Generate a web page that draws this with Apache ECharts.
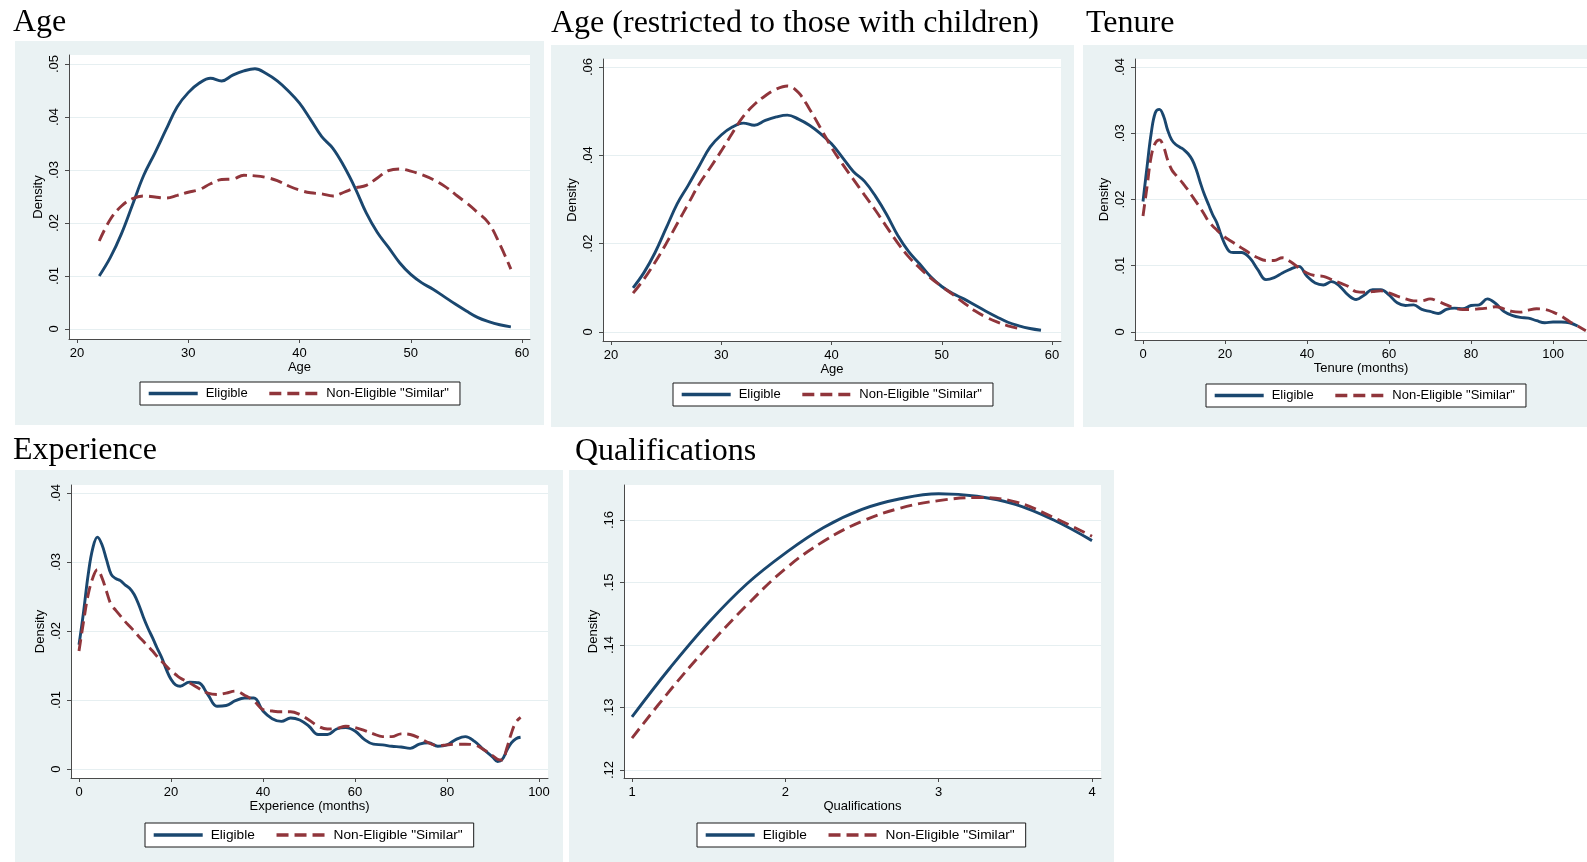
<!DOCTYPE html>
<html>
<head>
<meta charset="utf-8">
<title>Density comparisons: Eligible vs Non-Eligible "Similar"</title>
<script src="https://cdn.jsdelivr.net/npm/echarts@6/dist/echarts.min.js"></script>
<style>
  html, body { margin: 0; padding: 0; background: #ffffff; }
  #chart { width: 1587px; height: 862px; }
</style>
</head>
<body>
<div id="chart"></div>
<script>
// ---- Series names ----
const seriesNames = ['Eligible', 'Non-Eligible "Similar"'];

// ---- Age ----
const ageX = [22,23,24,25,26,27,28,29,30,31,32,33,34,35,36,37,38,39,40,41,42,43,44,45,46,47,48,49,50,51,52,53,54,55,56,57,58,59];
const ageEligible = [.0100,.0135,.0180,.0235,.0290,.0332,.0376,.0419,.0446,.0464,.0473,.0468,.0479,.0487,.0491,.0482,.0468,.0449,.0426,.0395,.0363,.0341,.0307,.0266,.0219,.0182,.0154,.0125,.0103,.0087,.0075,.0061,.0047,.0034,.0022,.0014,.0008,.0004];
const ageNonEligible = [.0166,.0207,.0232,.0246,.0251,.0249,.0247,.0252,.0258,.0263,.0274,.0282,.0283,.0290,.0289,.0286,.0280,.0270,.0262,.0257,.0255,.0251,.0258,.0266,.0271,.0285,.0299,.0302,.0298,.0291,.0282,.0270,.0254,.0238,.0220,.0200,.0160,.0113];
const ageXTicks = [20,30,40,50,60];
const ageXLabels = ['20','30','40','50','60'];
const ageYTicks = [0,.01,.02,.03,.04,.05];
const ageYLabels = ['0','.01','.02','.03','.04','.05'];

// ---- Age, restricted to those with children ----
const childAgeNonEligible = [.0088,.0120,.0158,.0200,.0245,.0290,.0335,.0372,.0410,.0450,.0488,.0515,.0535,.0550,.0557,.0542,.0505,.0462,.0418,.0380,.0345,.0310,.0275,.0238,.0202,.0170,.0145,.0122,.0103,.0085,.0066,.0048,.0034,.0023,.0014,.0008,null,null];
const childYTicks = [0,.02,.04,.06];
const childYLabels = ['0','.02','.04','.06'];

// ---- Tenure (months) ----
const tenureX = [0,1,2,3,4,5,6,7,8,9,10,11,12,13,14,15,16,17,18,19,20,21,22,24,26,28,30,32,34,36,38,40,42,44,46,48,50,52,54,56,58,60,62,64,66,68,70,72,74,76,78,80,82,84,86,88,90,92,94,96,98,100,102,104,106,108];
const tenureEligible = [.0197,.0250,.0300,.0331,.0336,.0326,.0305,.0290,.0283,.0279,.0275,.0269,.0260,.0245,.0225,.0207,.0192,.0177,.0165,.0147,.0132,.0122,.0120,.0120,.0112,.0094,.0079,.0082,.0089,.0095,.0099,.0084,.0074,.0071,.0076,.0069,.0056,.0049,.0056,.0064,.0064,.0056,.0044,.0040,.0041,.0034,.0031,.0028,.0034,.0036,.0035,.0040,.0041,.0050,.0043,.0031,.0025,.0022,.0021,.0017,.0014,.0015,.0015,.0014,.0009,null];
const tenureNonEligible = [.0175,.0220,.0265,.0285,.0290,.0280,.0260,.0245,.0237,.0230,.0222,.0214,.0205,.0196,.0187,.0177,.0167,.0160,.0154,.0148,.0143,.0139,.0135,.0127,.0119,.0112,.0108,.0108,.0112,.0106,.0097,.0089,.0085,.0084,.0079,.0074,.0069,.0061,.0060,.0061,.0062,.0059,.0054,.0050,.0047,.0047,.0050,.0046,.0041,.0036,.0034,.0034,.0035,.0036,.0038,.0035,.0031,.0030,.0033,.0035,.0034,.0030,.0024,.0016,.0009,.0002];
const tenureXTicks = [0,20,40,60,80,100];
const tenureXLabels = ['0','20','40','60','80','100'];
const tenureYTicks = [0,.01,.02,.03,.04];
const tenureYLabels = ['0','.01','.02','.03','.04'];

// ---- Experience (months) ----
const expX = [0,1,2,3,4,5,6,7,8,9,10,11,12,13,14,15,16,17,18,19,20,21,22,24,26,28,30,32,34,36,38,40,42,44,46,48,50,52,54,56,58,60,62,64,66,68,70,72,74,76,78,80,82,84,86,88,90,91,92,93,94,95,96];
const expEligible = [.0180,.0228,.0282,.0320,.0336,.0325,.0303,.0282,.0276,.0273,.0267,.0262,.0253,.0238,.0220,.0204,.0190,.0175,.0161,.0144,.0130,.0122,.0120,.0126,.0125,.0108,.0091,.0092,.0099,.0103,.0103,.0084,.0073,.0069,.0074,.0071,.0062,.0050,.0050,.0058,.0060,.0055,.0043,.0036,.0035,.0033,.0032,.0030,.0036,.0038,.0033,.0035,.0043,.0047,.0040,.0028,.0017,.0011,.0014,.0027,.0038,.0044,.0046];
const expNonEligible = [.0171,.0214,.0253,.0277,.0289,.0277,.0257,.0238,.0230,.0222,.0214,.0207,.0200,.0192,.0185,.0178,.0171,.0163,.0156,.0149,.0142,.0137,.0132,.0125,.0117,.0110,.0108,.0110,.0113,.0107,.0099,.0086,.0084,.0083,.0083,.0079,.0071,.0062,.0058,.0059,.0062,.0060,.0056,.0051,.0047,.0047,.0051,.0050,.0045,.0038,.0034,.0035,.0036,.0036,.0035,.0028,.0019,.0014,.0013,.0030,.0052,.0068,.0075];
const expXTicks = [0,20,40,60,80,100];
const expXLabels = ['0','20','40','60','80','100'];
const expYTicks = [0,.01,.02,.03,.04];
const expYLabels = ['0','.01','.02','.03','.04'];

// ---- Qualifications ----
const qualX = [1,1.25,1.5,1.75,2,2.25,2.5,2.75,3,3.25,3.5,3.75,4];
const qualEligible = [.1285,.1364,.1436,.1498,.1547,.1588,.1617,.1634,.1642,.1638,.1625,.1600,.1567];
const qualNonEligible = [.1251,.1328,.1399,.1464,.1522,.1566,.1598,.1619,.1631,.1636,.1629,.1604,.1574];
const qualXTicks = [1,2,3,4];
const qualXLabels = ['1','2','3','4'];
const qualYTicks = [.12,.13,.14,.15,.16];
const qualYLabels = ['.12','.13','.14','.15','.16'];

// ---- Styling ----
const COLORS = { eligible: '#1a476f', nonEligible: '#90353b', panel: '#eaf2f3', axis: '#4a4a4a', grid: '#e6eff1' };
const SANS = '"Liberation Sans", Arial, sans-serif';
const SERIF = '"Liberation Serif", "Times New Roman", serif';

// Panel layout: titles, panel backgrounds, plot regions, axis extents, legends
const panels = [
  { title: 'Age', titleLeft: 13, titleTop: 7, bg: [15, 41, 529, 384], grid: [69, 55, 461, 284],
    xMin: 19.281, xMax: 60.719, yMin: -0.00189, yMax: 0.0517, xName: 'Age',
    xTicks: ageXTicks, xLabels: ageXLabels, yTicks: ageYTicks, yLabels: ageYLabels,
    x: ageX, a: ageEligible, b: ageNonEligible, legend: [140, 382], legendFont: 13 },
  { title: 'Age (restricted to those with children)', titleLeft: 551, titleTop: 8, bg: [551, 45, 523, 382], grid: [603, 59, 458, 282],
    xMin: 19.274, xMax: 60.816, yMin: -0.00204, yMax: 0.06181, xName: 'Age',
    xTicks: ageXTicks, xLabels: ageXLabels, yTicks: childYTicks, yLabels: childYLabels,
    x: ageX, a: ageEligible, b: childAgeNonEligible, legend: [673, 383], legendFont: 13 },
  { title: 'Tenure', titleLeft: 1086, titleTop: 8, bg: [1083, 45, 504, 382], grid: [1135, 59, 452, 281],
    xMin: -1.951, xMax: 108.29, yMin: -0.00121, yMax: 0.04121, xName: 'Tenure (months)',
    xTicks: tenureXTicks, xLabels: tenureXLabels, yTicks: tenureYTicks, yLabels: tenureYLabels,
    x: tenureX, a: tenureEligible, b: tenureNonEligible, legend: [1206, 384], legendFont: 13 },
  { title: 'Experience', titleLeft: 13, titleTop: 435, bg: [15, 470, 548, 392], grid: [71, 485, 477, 293],
    xMin: -1.739, xMax: 101.96, yMin: -0.0013, yMax: 0.04116, xName: 'Experience (months)',
    xTicks: expXTicks, xLabels: expXLabels, yTicks: expYTicks, yLabels: expYLabels,
    x: expX, a: expEligible, b: expNonEligible, legend: [145, 823], legendFont: 13.7 },
  { title: 'Qualifications', titleLeft: 575, titleTop: 436, bg: [569, 470, 545, 392], grid: [624, 485, 477, 293],
    xMin: 0.9478, xMax: 4.0587, yMin: 0.11872, yMax: 0.1656, xName: 'Qualifications',
    xTicks: qualXTicks, xLabels: qualXLabels, yTicks: qualYTicks, yLabels: qualYLabels,
    x: qualX, a: qualEligible, b: qualNonEligible, legend: [697, 823], legendFont: 13.7 }
];

function labelFor(ticks, labels) {
  return function (v) {
    const i = ticks.findIndex(t => Math.abs(t - v) < 1e-9);
    return i >= 0 ? labels[i] : '';
  };
}

function pairs(xs, ys) {
  return xs.map((x, i) => [x, ys[i]]);
}

const option = {
  animation: false,
  backgroundColor: '#ffffff',
  title: [], grid: [], xAxis: [], yAxis: [], series: [], legend: [],
  graphic: { elements: [] }
};

panels.forEach((p, i) => {
  option.graphic.elements.push({
    type: 'rect', silent: true, z: -10,
    shape: { x: p.bg[0], y: p.bg[1], width: p.bg[2], height: p.bg[3] },
    style: { fill: COLORS.panel }
  });

  option.title.push({
    text: p.title, left: p.titleLeft, top: p.titleTop, padding: 0,
    textStyle: { fontFamily: SERIF, fontSize: 32, fontWeight: 'normal', color: '#000' }
  });

  option.grid.push({
    left: p.grid[0], top: p.grid[1], width: p.grid[2], height: p.grid[3],
    show: true, backgroundColor: '#ffffff', borderWidth: 0, containLabel: false
  });

  option.xAxis.push({
    type: 'value', gridIndex: i, min: p.xMin, max: p.xMax,
    name: p.xName, nameLocation: 'middle', nameGap: 22,
    nameTextStyle: { fontFamily: SANS, fontSize: 13, color: '#000' },
    axisLine: { show: true, onZero: false, lineStyle: { color: COLORS.axis, width: 1 } },
    axisTick: { show: true, length: 4, customValues: p.xTicks, lineStyle: { color: COLORS.axis, width: 1 } },
    axisLabel: { customValues: p.xTicks, formatter: labelFor(p.xTicks, p.xLabels),
      fontFamily: SANS, fontSize: 13, color: '#000', margin: 8 },
    splitLine: { show: false }
  });

  option.yAxis.push({
    type: 'value', gridIndex: i, min: p.yMin, max: p.yMax,
    name: 'Density', nameLocation: 'middle', nameGap: 24,
    nameTextStyle: { fontFamily: SANS, fontSize: 13, color: '#000' },
    axisLine: { show: true, onZero: false, lineStyle: { color: COLORS.axis, width: 1 } },
    axisTick: { show: true, length: 4, customValues: p.yTicks, lineStyle: { color: COLORS.axis, width: 1 } },
    axisLabel: { customValues: p.yTicks, formatter: labelFor(p.yTicks, p.yLabels), rotate: 90,
      fontFamily: SANS, fontSize: 13, color: '#000', margin: 8 },
    splitLine: { show: true, lineStyle: { color: COLORS.grid, width: 1.2 } }
  });

  option.series.push({
    name: seriesNames[0], type: 'line', xAxisIndex: i, yAxisIndex: i,
    data: pairs(p.x, p.a), smooth: 0.4, symbol: 'none', connectNulls: false,
    lineStyle: { color: COLORS.eligible, width: 2.9 }, itemStyle: { color: COLORS.eligible }
  });
  option.series.push({
    name: seriesNames[1], type: 'line', xAxisIndex: i, yAxisIndex: i,
    data: pairs(p.x, p.b), smooth: 0.4, symbol: 'none', connectNulls: false,
    lineStyle: { color: COLORS.nonEligible, width: 2.9, type: [12, 6] }, itemStyle: { color: COLORS.nonEligible }
  });

  option.legend.push({
    data: seriesNames, left: p.legend[0], top: p.legend[1], orient: 'horizontal',
    itemWidth: 49, itemHeight: 14, itemGap: 20, padding: [5, 11, 5, 7],
    backgroundColor: '#ffffff', borderColor: '#1a1a1a', borderWidth: 1, borderRadius: 0,
    selectedMode: false,
    itemStyle: { opacity: 0 },
    lineStyle: { width: 3.4 },
    textStyle: { fontFamily: SANS, fontSize: p.legendFont, color: '#000', padding: [0, 0, 0, 3] }
  });
});

const chart = echarts.init(document.getElementById('chart'), null, { renderer: 'canvas' });
chart.setOption(option);
</script>
</body>
</html>
